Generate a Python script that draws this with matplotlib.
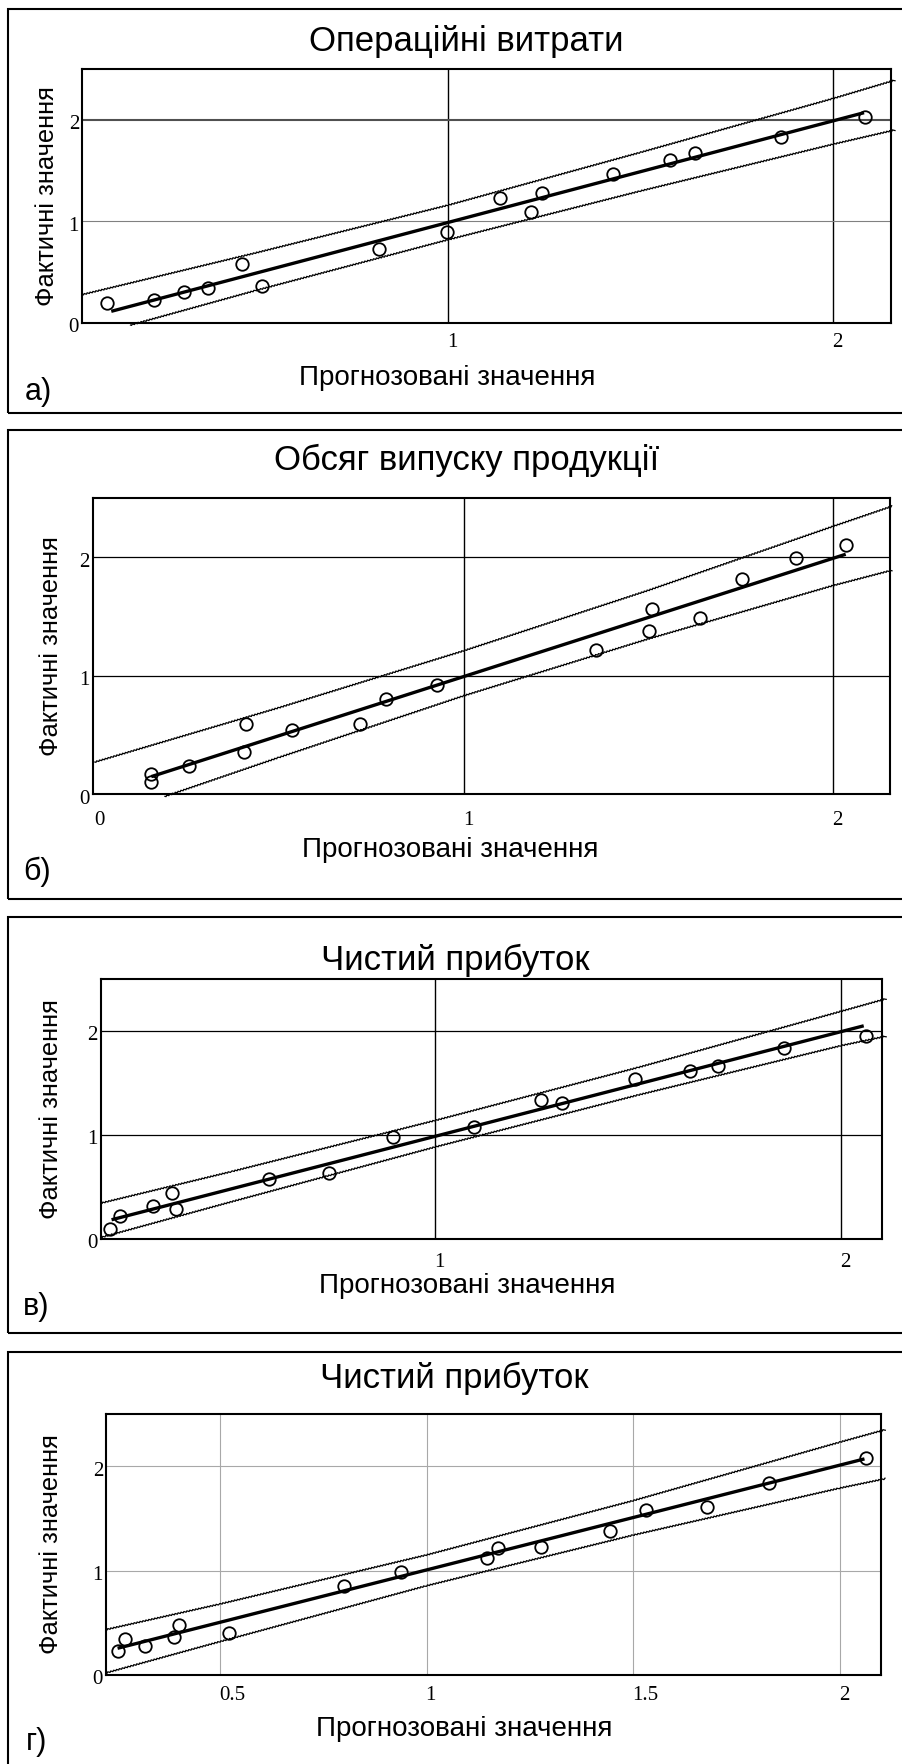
import matplotlib
matplotlib.use("Agg")
import matplotlib.pyplot as plt
from matplotlib.patches import Rectangle
from matplotlib.transforms import offset_copy

W, H = 902, 1764

# а) Операційні витрати
a_pred = [0.114, 0.235, 0.314, 0.377, 0.464, 0.516, 0.820, 0.998, 1.135, 1.214, 1.244, 1.427, 1.575, 1.642, 1.865, 2.082]
a_fact = [0.196, 0.222, 0.307, 0.340, 0.578, 0.366, 0.729, 0.892, 1.232, 1.088, 1.284, 1.471, 1.601, 1.670, 1.830, 2.026]
a_fit_x = [0.125, 2.08]
a_fit_y = [0.115, 2.07]
a_up_x = [0.05, 0.5, 1.0, 1.5, 2.0, 2.16]
a_up_y = [0.28, 0.69, 1.16, 1.68, 2.21, 2.39]
a_lo_x = [0.175, 0.5, 1.0, 1.5, 2.0, 2.16]
a_lo_y = [-0.02, 0.32, 0.82, 1.30, 1.76, 1.90]

# б) Обсяг випуску продукції
b_pred = [0.153, 0.153, 0.254, 0.410, 0.405, 0.533, 0.718, 0.790, 0.927, 1.357, 1.502, 1.509, 1.639, 1.755, 1.899, 2.037]
b_fact = [0.105, 0.167, 0.240, 0.593, 0.356, 0.542, 0.588, 0.805, 0.918, 1.218, 1.373, 1.562, 1.489, 1.814, 1.992, 2.107]
b_fit_x = [0.153, 2.035]
b_fit_y = [0.147, 2.025]
b_up_x = [0.0, 0.5, 1.0, 1.5, 2.0, 2.16]
b_up_y = [0.27, 0.73, 1.21, 1.72, 2.26, 2.43]
b_lo_x = [0.19, 0.5, 1.0, 1.5, 2.0, 2.16]
b_lo_y = [-0.02, 0.31, 0.83, 1.31, 1.76, 1.89]

# в) Чистий прибуток
c_pred = [0.199, 0.224, 0.305, 0.353, 0.362, 0.590, 0.739, 0.895, 1.096, 1.260, 1.312, 1.492, 1.627, 1.695, 1.858, 2.060]
c_fact = [0.096, 0.217, 0.313, 0.447, 0.287, 0.581, 0.632, 0.976, 1.075, 1.333, 1.308, 1.541, 1.617, 1.665, 1.840, 1.952]
c_fit_x = [0.203, 2.055]
c_fit_y = [0.185, 2.05]
c_up_x = [0.177, 0.5, 1.0, 1.5, 2.0, 2.11]
c_up_y = [0.345, 0.65, 1.14, 1.65, 2.19, 2.31]
c_lo_x = [0.177, 0.5, 1.0, 1.5, 2.0, 2.11]
c_lo_y = [0.015, 0.36, 0.885, 1.385, 1.86, 1.95]

# г) Чистий прибуток
d_pred = [0.252, 0.270, 0.318, 0.389, 0.401, 0.522, 0.801, 0.939, 1.147, 1.172, 1.276, 1.444, 1.532, 1.680, 1.828, 2.064]
d_fact = [0.227, 0.345, 0.278, 0.367, 0.476, 0.403, 0.853, 0.990, 1.121, 1.214, 1.224, 1.377, 1.578, 1.613, 1.843, 2.083]
d_fit_x = [0.252, 2.06]
d_fit_y = [0.256, 2.07]
d_up_x = [0.224, 0.5, 1.0, 1.5, 2.0, 2.11]
d_up_y = [0.435, 0.68, 1.15, 1.67, 2.23, 2.35]
d_lo_x = [0.224, 0.5, 1.0, 1.5, 2.0, 2.11]
d_lo_y = [0.02, 0.32, 0.855, 1.34, 1.79, 1.88]

titles = ["Операційні витрати", "Обсяг випуску продукції", "Чистий прибуток", "Чистий прибуток"]
tags = ["а)", "б)", "в)", "г)"]
xlabel = "Прогнозовані значення"
ylabel = "Фактичні значення"
y_ticks = [0, 1, 2]
x_ticks = [[1, 2], [0, 1, 2], [1, 2], [0.5, 1, 1.5, 2]]
x_ticklabels = [["1", "2"], ["0", "1", "2"], ["1", "2"], ["0.5", "1", "1.5", "2"]]

series = [
    (a_pred, a_fact, a_fit_x, a_fit_y, a_up_x, a_up_y, a_lo_x, a_lo_y),
    (b_pred, b_fact, b_fit_x, b_fit_y, b_up_x, b_up_y, b_lo_x, b_lo_y),
    (c_pred, c_fact, c_fit_x, c_fit_y, c_up_x, c_up_y, c_lo_x, c_lo_y),
    (d_pred, d_fact, d_fit_x, d_fit_y, d_up_x, d_up_y, d_lo_x, d_lo_y),
]

# layout in pixels: box (top, bottom), axes (left, top, right, bottom), xlim
layout = [
    dict(box=(9, 413), ax=(82, 69, 891, 323), xlim=(0.049, 2.15), xgap=10,
         title=(466, 41), xl=(447, 378), yl=(47, 196), tag=(38, 392)),
    dict(box=(430, 899), ax=(93, 498, 890, 794), xlim=(-0.005, 2.155), xgap=17,
         title=(467, 460), xl=(450, 850), yl=(51, 646), tag=(37, 872)),
    dict(box=(917, 1333), ax=(101, 979, 882, 1239), xlim=(0.177, 2.10), xgap=14,
         title=(455, 960), xl=(467, 1286), yl=(51, 1109), tag=(36, 1307)),
    dict(box=(1352, 1790), ax=(106, 1414, 881, 1675), xlim=(0.224, 2.10), xgap=11,
         title=(454, 1378), xl=(464, 1729), yl=(51, 1544), tag=(37, 1742)),
]
vgrid = [dict(color="black", lw=1.0)] * 3 + [dict(color="#a8a8a8", lw=0.8)]
hgrid = [
    [dict(color="#808080", lw=0.8), dict(color="#505050", lw=1.5)],
    [dict(color="black", lw=0.9)] * 2,
    [dict(color="black", lw=0.9)] * 2,
    [dict(color="#a8a8a8", lw=0.8)] * 2,
]

sans = ["Liberation Sans", "DejaVu Sans"]
serif = ["Liberation Serif", "DejaVu Serif"]

fig = plt.figure(figsize=(W / 100, H / 100), dpi=100)


def fx(x):
    return x / W


def fy(y):
    return 1 - y / H


for i, (lay, ser) in enumerate(zip(layout, series)):
    pred, fact, fit_x, fit_y, up_x, up_y, lo_x, lo_y = ser
    top, bottom = lay["box"]
    fig.patches.append(Rectangle((fx(8), fy(bottom)), fx(910 - 8), (bottom - top) / H,
                                 transform=fig.transFigure, fill=False,
                                 edgecolor="black", lw=1.5))
    l, t, r, b = lay["ax"]
    ax = fig.add_axes([fx(l), fy(b), (r - l) / W, (b - t) / H])
    ax.set_xlim(*lay["xlim"])
    ax.set_ylim(0, 2.5)
    ax.set_xticks([])
    ax.set_yticks([])

    for xv in x_ticks[i]:
        if xv > lay["xlim"][0] + 0.01:
            ax.axvline(xv, zorder=1, **vgrid[i])
    for yv, st in zip(y_ticks[1:], hgrid[i]):
        ax.axhline(yv, zorder=1, **st)

    for xs, ys in [(up_x, up_y), (lo_x, lo_y)]:
        ln, = ax.plot(xs, ys, color="black", lw=0.9, clip_on=False, zorder=2)
        ln.set_sketch_params(scale=0.7, length=3, randomness=1)
    ax.plot(fit_x, fit_y, color="black", lw=2.4, solid_capstyle="butt", zorder=3)
    ax.plot(pred, fact, "o", ms=9, mfc="none", mec="black", mew=1.3, zorder=4)

    # tick labels placed Mathcad-style
    xt = offset_copy(ax.get_xaxis_transform(), fig=fig, x=-1, y=-lay["xgap"], units="dots")
    for xv, lab in zip(x_ticks[i], x_ticklabels[i]):
        ax.text(xv, 0, lab, transform=xt, family=serif, fontsize=15,
                ha="left", va="top")
    yt = offset_copy(ax.get_yaxis_transform(), fig=fig, x=-3, y=-5, units="dots")
    for yv in y_ticks:
        ax.text(0, yv, str(yv), transform=yt, family=serif, fontsize=15,
                ha="right", va="center")

    for sp in ax.spines.values():
        sp.set_linewidth(1.5)
        sp.set_zorder(5)

    fig.text(fx(lay["title"][0]), fy(lay["title"][1]), titles[i], family=sans,
             fontsize=25, ha="center", va="center")
    fig.text(fx(lay["xl"][0]), fy(lay["xl"][1]), xlabel, family=sans,
             fontsize=20, ha="center", va="center")
    fig.text(fx(lay["yl"][0]), fy(lay["yl"][1]), ylabel, family=sans,
             fontsize=18.4, ha="center", va="center", rotation=90)
    fig.text(fx(lay["tag"][0]), fy(lay["tag"][1]), tags[i], family=sans,
             fontsize=22, ha="center", va="center")

fig.savefig("out.png", dpi=100)
